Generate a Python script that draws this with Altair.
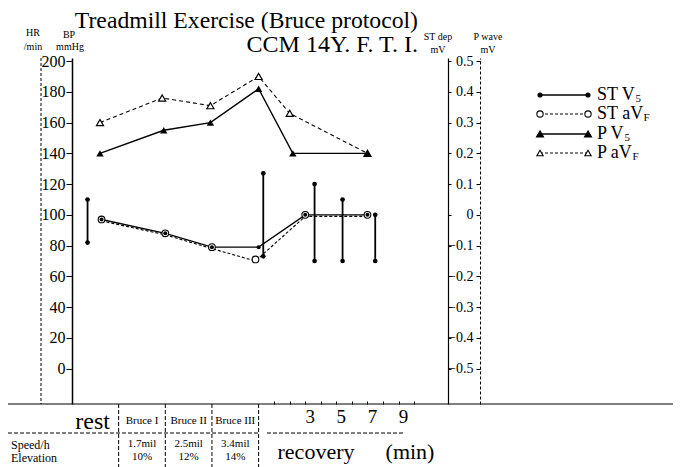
import altair as alt
import pandas as pd

# ---------------- data ----------------
# time axis in minutes: 0 = end of Bruce III (start of recovery)
st_time_v5 = [-10.1, -6.0, -3.0, 0.0, 3.0, 7.0]
st_v5 = [-0.015, -0.06, -0.105, -0.105, 0.0, 0.0]
st_time_avf = [-10.1, -6.0, -3.0, -0.2, 3.0, 7.0]
st_avf = [-0.015, -0.06, -0.105, -0.145, 0.0, 0.0]

p_time_v5 = [-10.2, -6.1, -3.1, 0.0, 2.2, 7.0]
p_v5 = [0.20, 0.275, 0.30, 0.41, 0.20, 0.20]
p_time_avf = [-10.2, -6.2, -3.1, 0.0, 2.0, 7.0]
p_avf = [0.30, 0.38, 0.355, 0.45, 0.33, 0.20]

bp_time = [-11.0, 0.3, 3.6, 5.4, 7.5]
bp_sys = [110, 127, 120, 110, 100]
bp_dia = [82, 73, 70, 70, 70]

left_ticks = list(range(0, 201, 20))
right_ticks = [-0.5, -0.4, -0.3, -0.2, -0.1, 0.0, 0.1, 0.2, 0.3, 0.4, 0.5]
minute_ticks = list(range(1, 11))
recovery_labels = [3, 5, 7, 9]

stage_bounds = [-9, -6, -3, 0]
stage_mid = [-7.5, -4.5, -1.5]
stage_names = ["Bruce I", "Bruce II", "Bruce III"]
stage_speed = ["1.7mil", "2.5mil", "3.4mil"]
stage_elev = ["10%", "12%", "14%"]

# ---------------- helpers ----------------
SERIF = "Liberation Serif"
W, H = 376, 346
one = pd.DataFrame({"k": [0]})

xscale = alt.Scale(domain=[-12, 12.18], nice=False, zero=False)
yleft = alt.Scale(domain=[-23, 202], nice=False, zero=False)
yright = alt.Scale(domain=[-0.615, 0.51], nice=False, zero=False)


def X(axis=None):
    if axis is None:
        return alt.X("t:Q", scale=xscale, axis=None)
    return alt.X("t:Q", scale=xscale, axis=axis, title="")


def txt(s, x, y, size, align="left", baseline="middle"):
    return alt.Chart(one).mark_text(
        text=s, align=align, baseline=baseline, font=SERIF, fontSize=size, color="black"
    ).encode(x=alt.value(x), y=alt.value(y))


def hrule(x1, x2, y, dash=(), width=1.0):
    kw = dict(color="black", strokeWidth=width)
    if dash:
        kw["strokeDash"] = list(dash)
    return alt.Chart(one).mark_rule(**kw).encode(
        x=alt.value(x1), x2=alt.value(x2), y=alt.value(y))


def vrule(x, y1, y2, dash=(), width=1.0):
    kw = dict(color="black", strokeWidth=width)
    if dash:
        kw["strokeDash"] = list(dash)
    return alt.Chart(one).mark_rule(**kw).encode(
        x=alt.value(x), y=alt.value(y1), y2=alt.value(y2))


layers = []

# ---------------- P wave series ----------------
df_pavf = pd.DataFrame({"t": p_time_avf, "v": p_avf})
df_pv5 = pd.DataFrame({"t": p_time_v5, "v": p_v5})

p_axis = alt.Axis(orient="left", offset=-408, values=right_ticks, tickSize=4, tickColor="black",
                  labelPadding=3, labelFont=SERIF, labelFontSize=14, labelColor="black",
                  labelExpr="datum.value == 0 ? '0' : format(datum.value, '.1f')",
                  domainColor="black", domainDash=[3, 2], domainWidth=1, grid=False, title="")
layers.append(alt.Chart(df_pavf).mark_line(color="black", strokeWidth=1.1, strokeDash=[4, 3]).encode(
    x=X(), y=alt.Y("v:Q", scale=yright, axis=p_axis)))
layers.append(alt.Chart(df_pv5).mark_line(color="black", strokeWidth=1.4).encode(
    x=X(), y=alt.Y("v:Q", scale=yright, axis=None)))
layers.append(alt.Chart(df_pavf).mark_point(shape="triangle-up", filled=True, fill="white",
                                            stroke="black", strokeWidth=1.2, size=50, opacity=1).encode(
    x=X(), y=alt.Y("v:Q", scale=yright, axis=None)))
layers.append(alt.Chart(df_pv5).mark_point(shape="triangle-up", filled=True, color="black",
                                           size=55, opacity=1).encode(
    x=X(), y=alt.Y("v:Q", scale=yright, axis=None)))

# ---------------- ST depression series ----------------
df_savf = pd.DataFrame({"t": st_time_avf, "v": st_avf})
df_sv5 = pd.DataFrame({"t": st_time_v5, "v": st_v5})

st_axis = alt.Axis(orient="right", values=right_ticks, tickSize=3, tickColor="black", labels=False,
                   domainColor="black", domainWidth=1.2, grid=False, title="")
layers.append(alt.Chart(df_savf).mark_line(color="black", strokeWidth=1.1, strokeDash=[3, 2], yOffset=1.5).encode(
    x=X(), y=alt.Y("v:Q", scale=yright, axis=None)))
layers.append(alt.Chart(df_sv5).mark_line(color="black", strokeWidth=1.4).encode(
    x=X(), y=alt.Y("v:Q", scale=yright, axis=st_axis)))
layers.append(alt.Chart(df_savf).mark_point(shape="circle", filled=True, fill="white", stroke="black",
                                            strokeWidth=1.1, size=45, opacity=1).encode(
    x=X(), y=alt.Y("v:Q", scale=yright, axis=None)))
layers.append(alt.Chart(df_sv5).mark_point(shape="circle", filled=True, color="black",
                                           size=16, opacity=1).encode(
    x=X(), y=alt.Y("v:Q", scale=yright, axis=None)))

# ---------------- blood pressure bars ----------------
df_bp = pd.DataFrame({"t": bp_time, "sys": bp_sys, "dia": bp_dia})
bp_axis = alt.Axis(orient="left", values=left_ticks, tickSize=6, tickColor="black", labelPadding=1,
                   labelFont=SERIF, labelFontSize=16, labelColor="black", domainColor="black",
                   domainWidth=1.5, grid=False, title="")
minute_axis = alt.Axis(orient="top", offset=-H, values=minute_ticks, tickSize=3, tickColor="black",
                       labels=False, domain=False, grid=False)
layers.append(alt.Chart(df_bp).mark_rule(color="black", strokeWidth=1.8).encode(
    x=X(minute_axis), y=alt.Y("sys:Q", scale=yleft, axis=bp_axis), y2="dia:Q"))
layers.append(alt.Chart(df_bp).mark_point(shape="circle", filled=True, color="black", size=22, opacity=1).encode(
    x=X(), y=alt.Y("sys:Q", scale=yleft, axis=None)))
layers.append(alt.Chart(df_bp).mark_point(shape="circle", filled=True, color="black", size=22, opacity=1).encode(
    x=X(), y=alt.Y("dia:Q", scale=yleft, axis=None)))

# ---------------- frame lines ----------------
layers.append(vrule(-31, 0, H, dash=(3, 2)))          # HR axis (dashed)
layers.append(hrule(-64, 601, H, width=1.2))          # base line
layers.append(hrule(-64, 186, 375, dash=(4, 2)))      # table row separator
layers.append(hrule(195, 333, 375, dash=(4, 2)))

df_bounds = pd.DataFrame({"t": stage_bounds})
layers.append(alt.Chart(df_bounds).mark_rule(color="black", strokeWidth=1, strokeDash=[4, 2]).encode(
    x=X(), y=alt.value(H), y2=alt.value(409)))

# ---------------- titles ----------------
layers.append(txt("Treadmill Exercise (Bruce protocol)", 346, -30, 23.7, align="right", baseline="alphabetic"))
layers.append(txt("CCM 14Y. F. T. I.", 346, -6, 24, align="right", baseline="alphabetic"))

layers.append(txt("HR", -39, -25, 10, align="center"))
layers.append(txt("/min", -39, -11, 10, align="center"))
layers.append(txt("BP", -3, -23, 10, align="center"))
layers.append(txt("mmHg", -2, -11, 10, align="center"))
layers.append(txt("ST dep", 366, -21, 10, align="center"))
layers.append(txt("mV", 366, -8, 10, align="center"))
layers.append(txt("P wave", 416, -21, 10, align="center"))
layers.append(txt("mV", 416, -8, 10, align="center"))

# ---------------- legend ----------------
legend_rows = [
    ("ST V", "5", 37, "circle", "black", 16, ()),
    ("ST aV", "F", 56, "circle", "white", 40, (3, 2)),
    ("P V", "5", 76, "triangle-up", "black", 50, ()),
    ("P aV", "F", 95, "triangle-up", "white", 40, (3, 2)),
]
sub_dx = {"ST V": 38.5, "ST aV": 46.5, "P V": 27.5, "P aV": 35.5}
for main, sub, yy, shape, fill, size, dash in legend_rows:
    layers.append(hrule(468, 516, yy, dash=dash, width=1.3 if not dash else 1))
    for xx in (468, 516):
        layers.append(alt.Chart(one).mark_point(shape=shape, filled=True, fill=fill, stroke="black",
                                                strokeWidth=1.1, size=size, opacity=1).encode(
            x=alt.value(xx), y=alt.value(yy)))
    layers.append(txt(main, 525, yy, 18))
    layers.append(txt(sub, 525 + sub_dx[main], yy + 4, 11))

# ---------------- table under the chart ----------------
layers.append(txt("rest", 38, 364, 24, align="right"))
df_stage = pd.DataFrame({"t": stage_mid, "name": stage_names, "speed": stage_speed, "elev": stage_elev})
layers.append(alt.Chart(df_stage).mark_text(font=SERIF, fontSize=11, color="black", baseline="middle").encode(
    x=X(), y=alt.value(363), text="name:N"))
layers.append(alt.Chart(df_stage).mark_text(font=SERIF, fontSize=11, color="black", baseline="middle").encode(
    x=X(), y=alt.value(386), text="speed:N"))
layers.append(alt.Chart(df_stage).mark_text(font=SERIF, fontSize=11, color="black", baseline="middle").encode(
    x=X(), y=alt.value(399), text="elev:N"))

df_rec = pd.DataFrame({"t": recovery_labels, "lab": [str(v) for v in recovery_labels]})
layers.append(alt.Chart(df_rec).mark_text(font=SERIF, fontSize=19, color="black", baseline="middle", dx=5).encode(
    x=X(), y=alt.value(359), text="lab:N"))

layers.append(txt("Speed/h", -61, 387, 12))
layers.append(txt("Elevation", -61, 400, 12))
layers.append(txt("recovery", 244, 394, 22, align="center"))
layers.append(txt("(min)", 338, 394, 22, align="center"))

chart = alt.layer(*layers).resolve_scale(y="independent").resolve_axis(
    x="independent", y="independent"
).properties(
    width=W, height=H,
    autosize=alt.AutoSizeParams(type="none"),
    padding={"left": 64, "top": 50, "right": 225, "bottom": 63},
    background="white",
).configure_view(stroke="transparent")

chart.save("out.html", embed_options={"renderer": "svg", "actions": False})
